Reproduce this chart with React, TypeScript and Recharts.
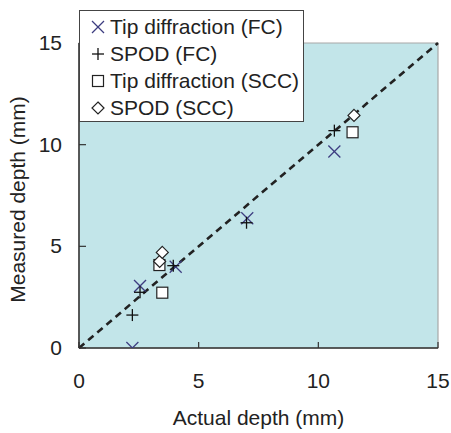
import React from "react";
import {
  ScatterChart,
  Scatter,
  XAxis,
  YAxis,
  ReferenceArea,
  ReferenceLine,
  Label,
  Legend,
} from "recharts";

const tipFC = [
  { x: 2.23, y: 0.0 },
  { x: 2.55, y: 3.05 },
  { x: 4.04, y: 4.0 },
  { x: 7.03, y: 6.38 },
  { x: 10.67, y: 9.66 },
];
const spodFC = [
  { x: 2.23, y: 1.62 },
  { x: 2.55, y: 2.74 },
  { x: 3.94, y: 4.05 },
  { x: 7.0, y: 6.16 },
  { x: 10.67, y: 10.69 },
];
const tipSCC = [
  { x: 3.36, y: 4.08 },
  { x: 3.48, y: 2.72 },
  { x: 11.43, y: 10.61 },
];
const spodSCC = [
  { x: 3.37, y: 4.26 },
  { x: 3.48, y: 4.7 },
  { x: 11.49, y: 11.44 },
];
const ticks = [0, 5, 10, 15];
const seriesNames = [
  "Tip diffraction (FC)",
  "SPOD (FC)",
  "Tip diffraction (SCC)",
  "SPOD (SCC)",
];

const FONT = "'Liberation Sans', Arial, Helvetica, sans-serif";
const NAVY = "#3d3d80";

const CrossShape = (props: any) => {
  const { cx, cy } = props;
  const s = 6;
  return (
    <g>
      <line x1={cx - s} y1={cy - s} x2={cx + s} y2={cy + s} stroke={NAVY} strokeWidth={1.3} />
      <line x1={cx - s} y1={cy + s} x2={cx + s} y2={cy - s} stroke={NAVY} strokeWidth={1.3} />
    </g>
  );
};
const PlusShape = (props: any) => {
  const { cx, cy } = props;
  const s = 6;
  return (
    <g>
      <line x1={cx - s} y1={cy} x2={cx + s} y2={cy} stroke="#111" strokeWidth={1.3} />
      <line x1={cx} y1={cy - s} x2={cx} y2={cy + s} stroke="#111" strokeWidth={1.3} />
    </g>
  );
};
const SquareShape = (props: any) => {
  const { cx, cy } = props;
  const s = 5.5;
  return (
    <rect x={cx - s} y={cy - s} width={2 * s} height={2 * s} fill="#fff" stroke="#222" strokeWidth={1.2} />
  );
};
const DiamondShape = (props: any) => {
  const { cx, cy } = props;
  const s = 6;
  return (
    <path
      d={`M${cx},${cy - s}L${cx + s},${cy}L${cx},${cy + s}L${cx - s},${cy}Z`}
      fill="#fff"
      stroke="#222"
      strokeWidth={1.2}
    />
  );
};

const XTick = (props: any) => {
  const { x, y, payload } = props;
  return (
    <g>
      <line x1={x} y1={y} x2={x} y2={y - 6} stroke="#333" strokeWidth={1.2} />
      <text x={x} y={y + 40} textAnchor="middle" fontSize={21} fill="#222" fontFamily={FONT}>
        {payload.value}
      </text>
    </g>
  );
};
const YTick = (props: any) => {
  const { x, y, payload } = props;
  return (
    <g>
      <line x1={x} y1={y} x2={x + 7} y2={y} stroke="#333" strokeWidth={1.2} />
      <text x={x - 17} y={y + 7} textAnchor="end" fontSize={21} fill="#222" fontFamily={FONT}>
        {payload.value}
      </text>
    </g>
  );
};

const legendIcons = [CrossShape, PlusShape, SquareShape, DiamondShape];

const LegendBox = () => (
  <div
    style={{
      width: 225,
      height: 112,
      background: "#fff",
      border: "1px solid #444",
      boxSizing: "border-box",
      paddingTop: 2,
      fontFamily: FONT,
      fontSize: 21,
      lineHeight: "27px",
      color: "#222",
      textAlign: "left",
    }}
  >
    {seriesNames.map((n, i) => {
      const Icon = legendIcons[i];
      return (
        <div key={n} style={{ height: 27, display: "flex", alignItems: "center", whiteSpace: "nowrap" }}>
          <svg width={30} height={20} style={{ flex: "none" }}>
            <Icon cx={18} cy={10} />
          </svg>
          <span>{n}</span>
        </div>
      );
    })}
  </div>
);

export default function App() {
  return (
    <div style={{ position: "absolute", left: 0, top: 0 }}>
      <ScatterChart width={451} height={433} margin={{ top: 43, right: 13, bottom: 45, left: 19 }}>
        <ReferenceArea x1={0} x2={15} y1={0} y2={15} fill="#c2e5e9" fillOpacity={1} stroke="#a8a8a8" strokeWidth={1.2} />
        <XAxis
          type="number"
          dataKey="x"
          domain={[0, 15]}
          ticks={ticks}
          height={40}
          tickSize={0}
          tickMargin={0}
          tick={<XTick />}
          axisLine={{ stroke: "#333", strokeWidth: 1.5 }}
          tickLine={false}
          allowDataOverflow
        >
          <Label
            value="Actual depth (mm)"
            position="bottom"
            offset={22}
            style={{ fontSize: 21, fill: "#222", fontFamily: FONT }}
          />
        </XAxis>
        <YAxis
          type="number"
          dataKey="y"
          domain={[0, 15]}
          ticks={ticks}
          width={60}
          tickSize={0}
          tickMargin={0}
          tick={<YTick />}
          axisLine={{ stroke: "#333", strokeWidth: 1.5 }}
          tickLine={false}
          allowDataOverflow
        >
          <Label
            value="Measured depth (mm)"
            angle={-90}
            position="insideLeft"
            offset={-1}
            dy={4}
            style={{ fontSize: 21, fill: "#222", fontFamily: FONT, textAnchor: "middle" }}
          />
        </YAxis>
        <ReferenceLine
          segment={[
            { x: 0, y: 0 },
            { x: 15, y: 15 },
          ]}
          stroke="#222"
          strokeWidth={2.6}
          strokeDasharray="7 5"
        />
        <Scatter name={seriesNames[0]} data={tipFC} shape={<CrossShape />} isAnimationActive={false} />
        <Scatter name={seriesNames[1]} data={spodFC} shape={<PlusShape />} isAnimationActive={false} />
        <Scatter name={seriesNames[2]} data={tipSCC} shape={<SquareShape />} isAnimationActive={false} />
        <Scatter name={seriesNames[3]} data={spodSCC} shape={<DiamondShape />} isAnimationActive={false} />
        <Legend
          layout="horizontal"
          verticalAlign="middle"
          align="center"
          wrapperStyle={{ left: 79, top: 10, width: 225, height: 112 }}
          content={<LegendBox />}
        />
      </ScatterChart>
    </div>
  );
}
